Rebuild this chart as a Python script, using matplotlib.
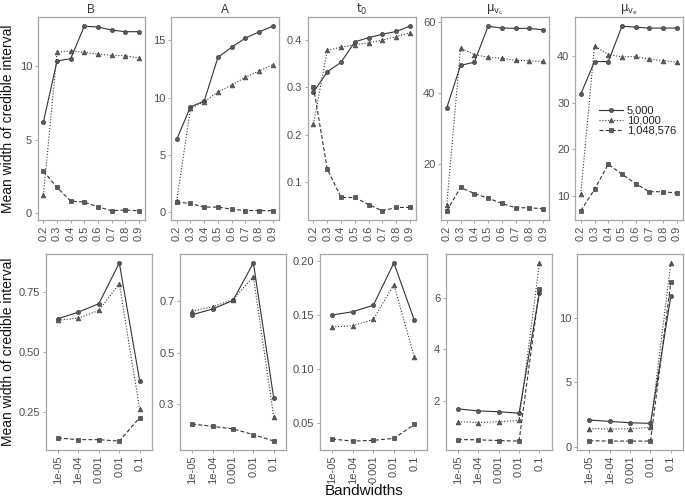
import matplotlib
matplotlib.use("Agg")
import matplotlib.pyplot as plt
from matplotlib.lines import Line2D

plt.rcParams["font.family"] = ["Liberation Sans", "DejaVu Sans"]
plt.rcParams["mathtext.fontset"] = "dejavusans"

# panel titles
titles = ["B", "A", r"$\mathrm{t}_{\mathrm{0}}$",
          r"$\mathrm{\mu}_{\mathrm{v}_{\mathrm{c}}}$",
          r"$\mathrm{\mu}_{\mathrm{v}_{\mathrm{e}}}$"]
series_names = ["5,000", "10,000", "1,048,576"]

# top row: x = bandwidth proportion
top_x = [0.2, 0.3, 0.4, 0.5, 0.6, 0.7, 0.8, 0.9]
top_x_labels = ["0.2", "0.3", "0.4", "0.5", "0.6", "0.7", "0.8", "0.9"]

top_B = [
    [6.22, 10.34, 10.5, 12.7, 12.65, 12.44, 12.33, 12.33],
    [1.24, 10.93, 11.02, 10.93, 10.81, 10.72, 10.7, 10.54],
    [2.87, 1.76, 0.84, 0.77, 0.45, 0.18, 0.23, 0.18],
]
top_A = [
    [6.38, 9.2, 9.7, 13.5, 14.39, 15.18, 15.73, 16.22],
    [1.02, 9.06, 9.64, 10.5, 11.1, 11.77, 12.32, 12.87],
    [0.9, 0.79, 0.47, 0.47, 0.29, 0.17, 0.17, 0.15],
]
top_t0 = [
    [0.290, 0.333, 0.353, 0.396, 0.405, 0.412, 0.418, 0.429],
    [0.223, 0.378, 0.385, 0.390, 0.394, 0.400, 0.407, 0.415],
    [0.301, 0.128, 0.068, 0.068, 0.053, 0.040, 0.047, 0.047],
]
top_mvc = [
    [35.8, 47.7, 48.6, 58.7, 58.2, 58.1, 58.1, 57.7],
    [8.6, 52.6, 50.7, 50.0, 49.7, 49.1, 49.0, 48.8],
    [6.85, 13.4, 11.7, 10.4, 8.9, 7.7, 7.7, 7.4],
]
top_mve = [
    [31.9, 38.9, 38.9, 46.5, 46.3, 46.1, 46.1, 46.1],
    [10.4, 42.3, 40.4, 39.9, 40.0, 39.4, 39.1, 38.8],
    [6.8, 11.4, 16.8, 14.7, 12.6, 10.9, 10.9, 10.6],
]

# bottom row: x = absolute bandwidth (categorical)
bot_x_labels = ["1e-05", "1e-04", "0.001", "0.01", "0.1"]

bot_B = [
    [0.64, 0.668, 0.703, 0.873, 0.38],
    [0.634, 0.643, 0.675, 0.786, 0.262],
    [0.143, 0.136, 0.136, 0.130, 0.228],
]
bot_A = [
    [0.646, 0.668, 0.701, 0.846, 0.323],
    [0.66, 0.677, 0.704, 0.793, 0.25],
    [0.224, 0.215, 0.205, 0.183, 0.158],
]
bot_t0 = [
    [0.150, 0.153, 0.159, 0.198, 0.145],
    [0.139, 0.140, 0.146, 0.178, 0.111],
    [0.0356, 0.0337, 0.0344, 0.0362, 0.049],
]
bot_mvc = [
    [1.69, 1.61, 1.58, 1.52, 6.2],
    [1.19, 1.16, 1.19, 1.24, 7.35],
    [0.5, 0.49, 0.46, 0.44, 6.35],
]
bot_mve = [
    [2.09, 1.98, 1.88, 1.83, 11.65],
    [1.42, 1.39, 1.42, 1.52, 14.23],
    [0.49, 0.46, 0.46, 0.46, 12.73],
]

top_data = [top_B, top_A, top_t0, top_mvc, top_mve]
bot_data = [bot_B, bot_A, bot_t0, bot_mvc, bot_mve]

top_yticks = [[0, 5, 10], [0, 5, 10, 15], [0.1, 0.2, 0.3, 0.4], [20, 40, 60], [10, 20, 30, 40]]
top_yfmt = ["{:g}", "{:g}", "{:.1f}", "{:g}", "{:g}"]
bot_yticks = [[0.25, 0.5, 0.75], [0.3, 0.5, 0.7], [0.05, 0.1, 0.15, 0.2], [2, 4, 6], [0, 5, 10]]
bot_yfmt = ["{:.2f}", "{:.1f}", "{:.2f}", "{:g}", "{:g}"]

# panel edges in pixels (left, right), rows (top, bottom)
W, H = 685, 503
top_cols = [(37.7, 144.5), (171, 278.5), (307.7, 415.7), (441, 549), (575, 682.7)]
bot_cols = [(45.7, 152), (180, 286), (320, 426.7), (445.7, 551.7), (577.3, 683)]
top_row = (17, 220)
bot_row = (254, 450)

LINE = "#333333"
EDGE = "#a6a6a6"
TXT = "#4d4d4d"
styles = [
    dict(ls="-", marker="o", ms=3.0),
    dict(ls=(0, (1, 1.6)), marker="^", ms=3.4),
    dict(ls=(0, (3.5, 2)), marker="s", ms=3.0),
]

fig = plt.figure(figsize=(W / 100, H / 100), dpi=100)


def make_ax(col, row):
    l, r = col
    t, b = row
    return fig.add_axes([l / W, 1 - b / H, (r - l) / W, (b - t) / H])


def style_ax(ax):
    for sp in ax.spines.values():
        sp.set_color(EDGE)
        sp.set_linewidth(0.9)
    ax.tick_params(colors=TXT, labelsize=8, length=2.5, width=0.7, pad=1.5)
    ax.tick_params(axis="both", color=EDGE)


for i in range(5):
    ax = make_ax(top_cols[i], top_row)
    for s, ys in enumerate(top_data[i]):
        ax.plot(top_x, ys, color=LINE, lw=0.8, mfc="#5a5a5a", mec="#444444",
                mew=0.5, **styles[s])
    ax.set_xlim(0.2 - 0.042, 0.9 + 0.042)
    ax.margins(y=0.05)
    ax.set_xticks(top_x)
    ax.set_xticklabels(top_x_labels, rotation=90)
    ax.set_yticks(top_yticks[i])
    ax.set_yticklabels([top_yfmt[i].format(v) for v in top_yticks[i]])
    ax.set_title(titles[i], fontsize=8.5, color="#333333", pad=3)
    style_ax(ax)
    if i == 4:
        handles = [Line2D([], [], color=LINE, lw=0.8, mfc="#5a5a5a",
                          mec="#444444", mew=0.5, **styles[s]) for s in range(3)]
        ax.legend(handles, series_names, loc="upper left",
                  bbox_to_anchor=(0.15, 0.6), frameon=False, fontsize=8,
                  handlelength=2.2, handletextpad=0.3, labelspacing=0.0,
                  borderpad=0.2, labelcolor="#222222")

for i in range(5):
    ax = make_ax(bot_cols[i], bot_row)
    xs = list(range(len(bot_x_labels)))
    for s, ys in enumerate(bot_data[i]):
        ax.plot(xs, ys, color=LINE, lw=0.8, mfc="#5a5a5a", mec="#444444",
                mew=0.5, **styles[s])
    ax.set_xlim(-0.6, len(xs) - 0.4)
    ax.margins(y=0.05)
    ax.set_xticks(xs)
    ax.set_xticklabels(bot_x_labels, rotation=90)
    ax.set_yticks(bot_yticks[i])
    ax.set_yticklabels([bot_yfmt[i].format(v) for v in bot_yticks[i]])
    style_ax(ax)

ylab = "Mean width of credible interval"
fig.text(8 / W, 1 - 118.5 / H, ylab, rotation=90, ha="center", va="center",
         fontsize=10, color="#111111")
fig.text(8 / W, 1 - 352 / H, ylab, rotation=90, ha="center", va="center",
         fontsize=10, color="#111111")
fig.text(364 / W, 1 - 491 / H, "Bandwidths", ha="center", va="center",
         fontsize=11, color="#111111")

fig.savefig("out.png", dpi=100)
